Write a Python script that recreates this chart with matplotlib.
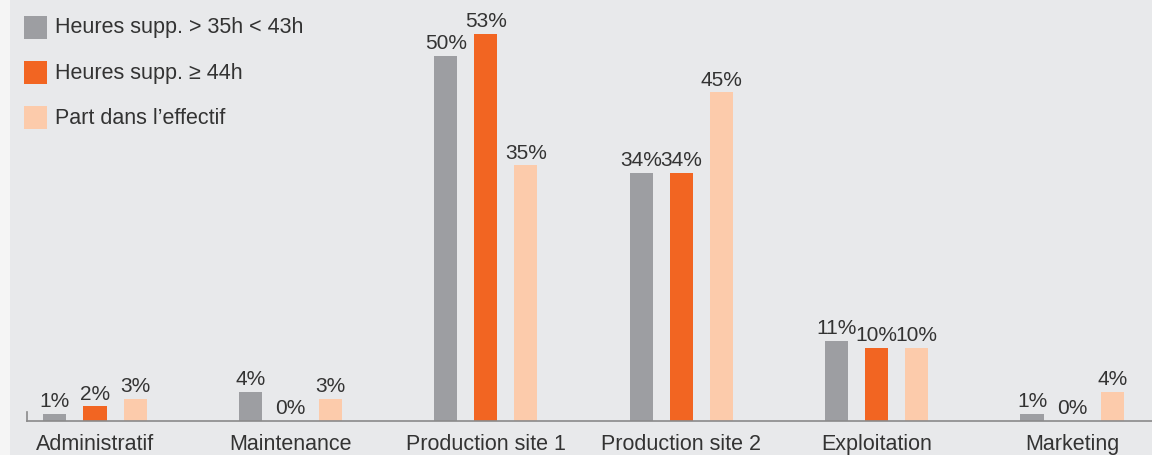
import matplotlib
matplotlib.use("Agg")
import matplotlib.pyplot as plt
from matplotlib.patches import Rectangle
import numpy as np

# data
categories = ["Administratif", "Maintenance", "Production site 1",
              "Production site 2", "Exploitation", "Marketing"]
series_names = ["Heures supp. > 35h < 43h", "Heures supp. \u2265 44h", "Part dans l\u2019effectif"]
heures_35_43 = [1, 4, 50, 34, 11, 1]
heures_44 = [2, 0, 53, 34, 10, 0]
part_effectif = [3, 3, 35, 45, 10, 4]
colors = ["#9d9ea2", "#f26522", "#fccbab"]

bg = "#e8e9eb"
txt = "#333333"
plt.rcParams["font.family"] = ["Liberation Sans", "DejaVu Sans"]

fig = plt.figure(figsize=(11.52, 4.56), dpi=100, facecolor=bg)
# light strip on left edge
fig.patches.append(Rectangle((0, 0), 10 / 1152, 1, transform=fig.transFigure,
                             facecolor="#f5f5f5", edgecolor="none", zorder=0))

ax = fig.add_axes([27 / 1152, 34 / 456, 1 - 27 / 1152, 1 - 34 / 456])
ax.set_facecolor(bg)

x = np.arange(len(categories))
w = 0.118
off = 0.205
all_series = [heures_35_43, heures_44, part_effectif]
for k, vals in enumerate(all_series):
    pos = x + (k - 1) * off
    ax.bar(pos, vals, width=w, color=colors[k], label=series_names[k], zorder=2)
    for p, v in zip(pos, vals):
        ax.text(p, v + 0.5, f"{v}%", ha="center", va="bottom",
                fontsize=15, color=txt)

ax.set_xlim(-0.348, 5.409)
ax.set_ylim(0, 57.8)

for s in ["top", "right"]:
    ax.spines[s].set_visible(False)
ax.spines["bottom"].set_color("#8a8a8a")
ax.spines["bottom"].set_linewidth(1.2)
ax.spines["left"].set_visible(False)
ax.plot([-0.348, -0.348], [0, 1.2], color="#8a8a8a", lw=1.2, clip_on=False)
ax.set_yticks([])
ax.set_xticks(x)
ax.set_xticklabels(categories, fontsize=15.5, color=txt)
ax.tick_params(axis="x", length=0, pad=9)

# legend drawn manually
for k, name in enumerate(series_names):
    yc = 1 - (28 + k * 45) / 456
    fig.patches.append(Rectangle((24 / 1152, yc - 11.5 / 456), 23 / 1152, 23 / 456,
                                 transform=fig.transFigure, facecolor=colors[k],
                                 edgecolor="none"))
    fig.text(55 / 1152, yc, name, ha="left", va="center", fontsize=15.5, color=txt)

fig.savefig("out.png", dpi=100, facecolor=bg)
